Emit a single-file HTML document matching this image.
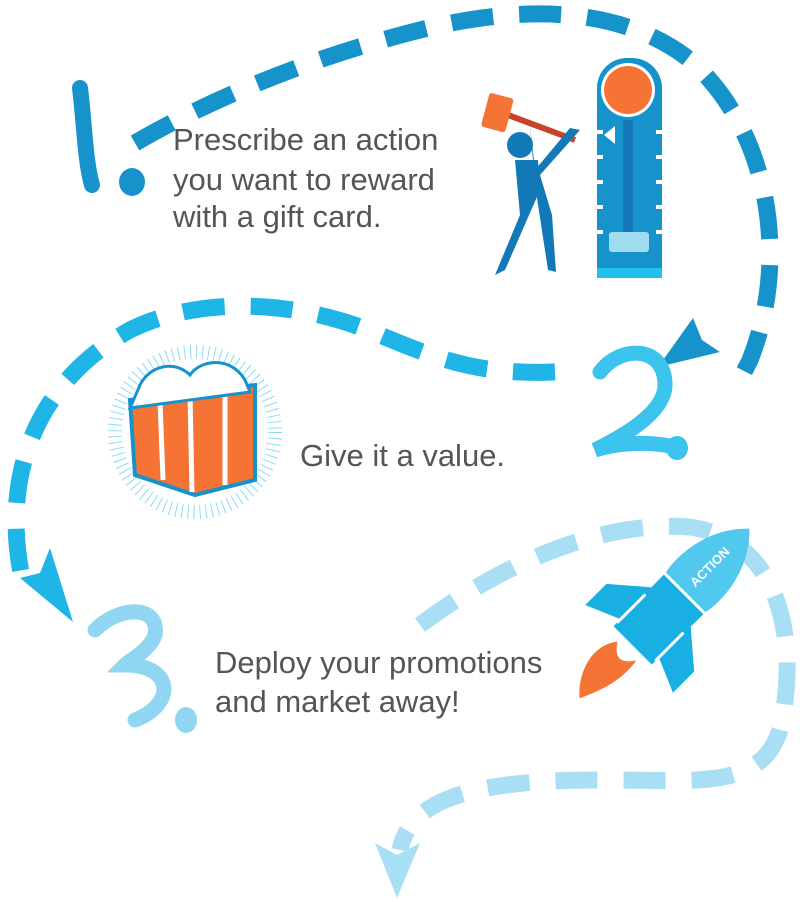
<!DOCTYPE html>
<html><head><meta charset="utf-8"><style>
html,body{margin:0;padding:0;background:#fff;}
svg{display:block}
.t{font-family:"Liberation Sans Narrow","Liberation Sans",sans-serif;fill:#555;font-size:31px;}
</style></head><body>
<svg width="800" height="902" viewBox="0 0 800 902" xmlns="http://www.w3.org/2000/svg">
<!-- path 1 -->
<path d="M135,143 C200,105 300,60 420,30 C520,5 620,5 690,60 C770,130 790,260 750,360 L740,380" fill="none" stroke="#1793cc" stroke-width="17" stroke-dasharray="42,26"/>
<polygon points="693,318 702,340 720,352 658,367" fill="#1793cc"/>
<!-- path 2 -->
<path d="M555,372 C480,375 440,360 380,335 C300,300 200,295 130,330 C40,380 0,470 22,578" fill="none" stroke="#1fb5e6" stroke-width="17" stroke-dasharray="42,26"/>
<polygon points="20,578 40,573 50,548 73,622" fill="#1fb5e6"/>
<!-- path 3 -->
<path d="M420,625 C500,565 600,520 690,527 C780,540 800,640 780,730 C760,790 700,780 600,780 C470,780 410,800 400,850" fill="none" stroke="#a9dff5" stroke-width="17" stroke-dasharray="42,26"/>
<polygon points="375,843 397,855 420,843 397,898" fill="#a9dff5"/>
<!-- numbers -->
<g fill="none" stroke-linecap="round">
<path d="M80,88 C85,130 85,160 92,185" stroke="#1793cc" stroke-width="16"/>
<path d="M600,372 C620,345 665,345 665,385 C665,415 615,440 595,450 C620,442 650,442 670,446" stroke="#3cc3ee" stroke-width="15"/>
<path d="M95,630 C120,605 160,605 155,635 C150,650 130,660 125,665 C175,665 175,705 135,720" stroke="#90d6f2" stroke-width="15"/>
</g>
<ellipse cx="132" cy="182" rx="13" ry="14" fill="#1793cc"/>
<ellipse cx="677" cy="448" rx="11" ry="12" fill="#3cc3ee"/>
<ellipse cx="186" cy="720" rx="11" ry="13" fill="#90d6f2"/>
<!-- texts -->
<text class="t" x="173" y="150">Prescribe an action</text>
<text class="t" x="173" y="190">you want to reward</text>
<text class="t" x="173" y="227">with a gift card.</text>
<text class="t" x="300" y="466">Give it a value.</text>
<text class="t" x="215" y="673">Deploy your promotions</text>
<text class="t" x="215" y="712">and market away!</text>
<!-- strongman tower -->
<rect x="597" y="58" width="65" height="220" rx="30" fill="#1793cc"/>
<rect x="597" y="90" width="65" height="188" fill="#1793cc"/>
<circle cx="628" cy="90" r="27" fill="#fff"/>
<circle cx="628" cy="90" r="24" fill="#f47335"/>
<rect x="623" y="120" width="10" height="120" fill="#1278b8"/>
<g fill="#fff">
<rect x="597" y="130" width="6" height="4"/><rect x="656" y="130" width="6" height="4"/>
<rect x="597" y="155" width="6" height="4"/><rect x="656" y="155" width="6" height="4"/>
<rect x="597" y="180" width="6" height="4"/><rect x="656" y="180" width="6" height="4"/>
<rect x="597" y="205" width="6" height="4"/><rect x="656" y="205" width="6" height="4"/>
<rect x="597" y="230" width="6" height="4"/><rect x="656" y="230" width="6" height="4"/>
<polygon points="604,135 615,126 615,144"/>
</g>
<rect x="609" y="232" width="40" height="20" rx="3" fill="#9fdcf0"/>
<rect x="597" y="268" width="65" height="10" fill="#22c0ea"/>
<!-- man + hammer -->
<line x1="500" y1="112" x2="575" y2="140" stroke="#c9432a" stroke-width="6"/>
<rect x="485" y="95" width="25" height="35" rx="3" fill="#f47335" transform="rotate(15 497 112)"/>
<circle cx="520" cy="145" r="13" fill="#1278b8"/>
<path d="M530,125 L535,185 L548,270 L556,272 L552,215 L540,175 L580,130 L570,128 L535,170 Z" fill="#1278b8"/>
<path d="M515,160 L538,160 L540,190 L505,270 L495,275 L520,215 Z" fill="#1278b8"/>
<!-- gift -->
<circle cx="195" cy="432" r="80" fill="none" stroke="#5ccaf0" stroke-dasharray="1,5" stroke-width="14" opacity="0.7"/>
<polygon points="130,400 255,385 255,480 195,495 135,475" fill="#f47335" stroke="#1793cc" stroke-width="4"/>
<g stroke="#fff" stroke-width="5">
<line x1="160" y1="400" x2="163" y2="480"/><line x1="190" y1="395" x2="192" y2="492"/><line x1="225" y1="390" x2="225" y2="485"/>
</g>
<path d="M140,385 C150,365 175,360 190,375 C200,360 230,355 245,380 L250,392 L130,408 Z" fill="#fff" stroke="#1793cc" stroke-width="3"/>
<!-- rocket -->
<g transform="translate(668,610) rotate(45)">
<path d="M-6,58 C-14,80 -8,110 0,125 C4,105 8,85 6,58 C2,72 -2,72 -6,58 Z" fill="#f47335" transform="scale(2.2,1)"/>
<path d="M0,-115 C32,-85 32,-40 28,-25 L-28,-25 C-32,-40 -32,-85 0,-115 Z" fill="#53c8ee"/>
<path d="M-28,-22 L28,-22 L27,50 L-27,50 Z" fill="#19afe2"/>
<polygon points="-27,-5 -62,25 -62,55 -27,40" fill="#19afe2"/>
<polygon points="27,-5 62,25 62,55 27,40" fill="#19afe2"/>
<line x1="-27" y1="5" x2="-27" y2="45" stroke="#fff" stroke-width="3"/>
<line x1="27" y1="5" x2="27" y2="45" stroke="#fff" stroke-width="3"/>
<text x="0" y="-60" transform="rotate(-90 0 -60)" text-anchor="middle" dominant-baseline="middle" font-family="Liberation Sans,sans-serif" font-weight="bold" font-size="13" fill="#fff">ACTION</text>
</g>
</svg>
</body></html>
